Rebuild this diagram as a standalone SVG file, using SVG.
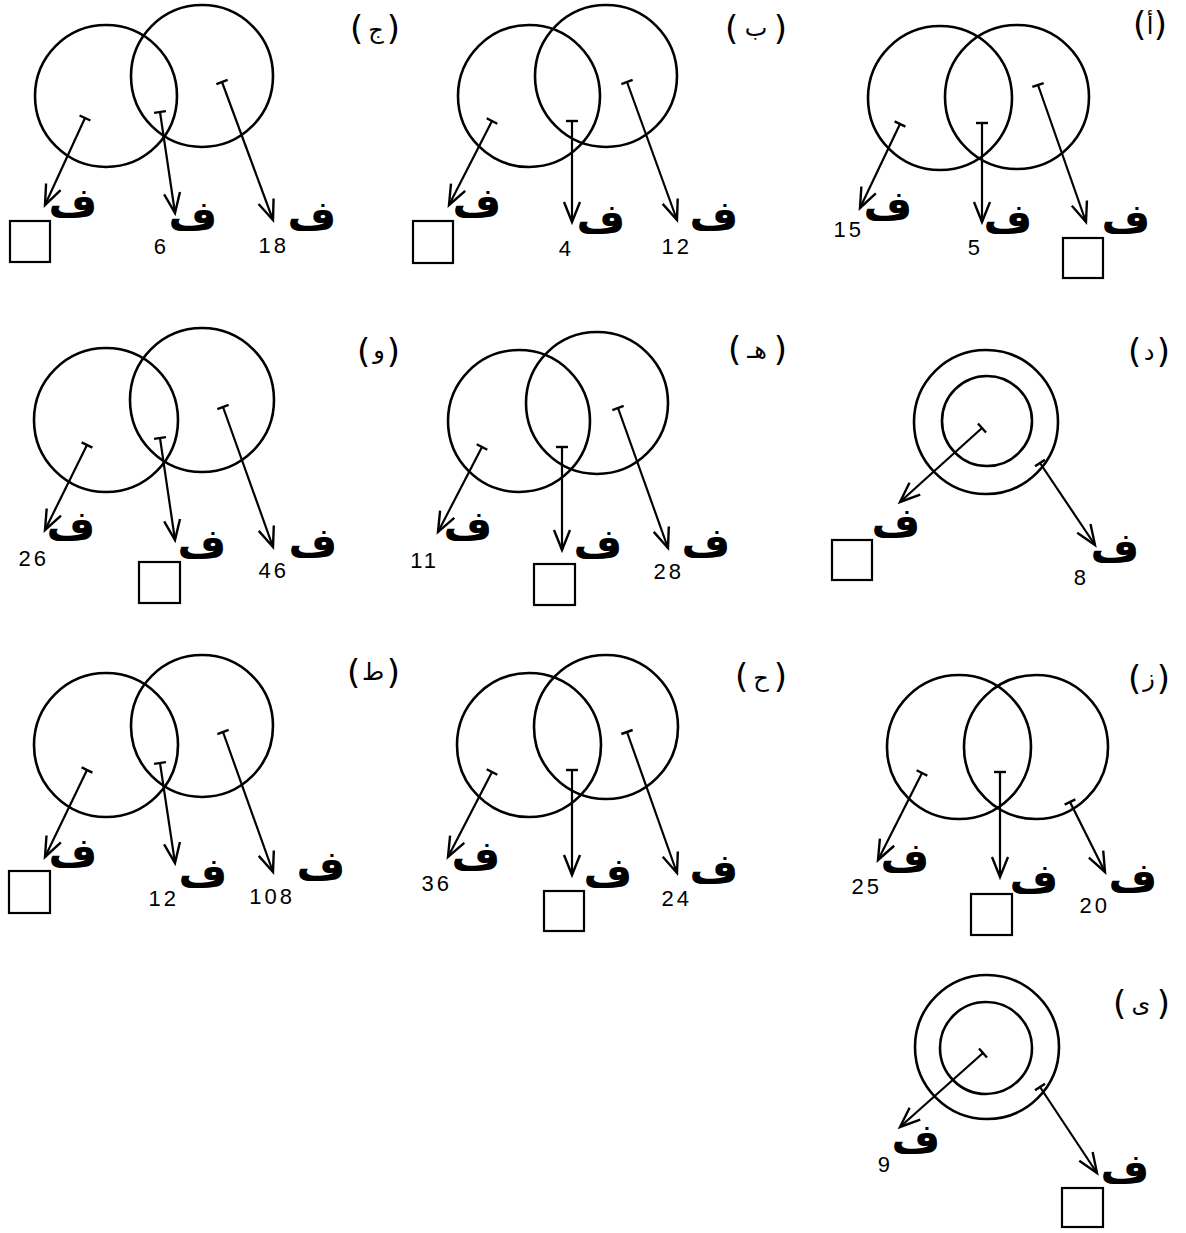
<svg xmlns="http://www.w3.org/2000/svg" width="1186" height="1233" viewBox="0 0 1186 1233">
<defs>
<marker id="ah" markerUnits="userSpaceOnUse" markerWidth="24" markerHeight="20" refX="20" refY="8" orient="auto" overflow="visible">
<path d="M0,0 L20,8 L0,16" fill="none" stroke="#000" stroke-width="2.4"/>
</marker>
<marker id="tk" markerUnits="userSpaceOnUse" markerWidth="4" markerHeight="14" refX="0" refY="6" orient="auto" overflow="visible">
<path d="M0,0 L0,12" fill="none" stroke="#000" stroke-width="2.4"/>
</marker>
</defs>
<style>
.c{fill:none;stroke:#000;stroke-width:2.6}
.a{fill:none;stroke:#000;stroke-width:2.2;marker-end:url(#ah);marker-start:url(#tk)}
.sq{fill:#fff;stroke:#000;stroke-width:2.2}
.f{font-family:"DejaVu Sans",sans-serif;font-weight:bold;font-size:42px;text-anchor:middle;fill:#000}
.n{font-family:"Liberation Sans",Arial,sans-serif;font-size:22px;text-anchor:end;letter-spacing:3px;fill:#000}
.l{font-family:"DejaVu Sans",sans-serif;font-size:24px;text-anchor:middle;fill:#000}
.po{font-family:"DejaVu Sans",sans-serif;font-size:34px;text-anchor:start;fill:#000}
.pc{font-family:"DejaVu Sans",sans-serif;font-size:34px;text-anchor:end;fill:#000}
</style>
<rect width="1186" height="1233" fill="#fff"/>

<g id="panel-a">
<circle class="c" cx="940" cy="98" r="72"/><circle class="c" cx="1017" cy="97" r="72"/>
<text class="po" x="1133" y="36">(</text><text class="l" x="1150" y="34">أ</text><text class="pc" x="1167" y="36">)</text>
<text class="f" x="888" y="220">ف</text><text class="n" x="864" y="237">15</text>
<text class="f" x="1008" y="233">ف</text><text class="n" x="983" y="255">5</text>
<text class="f" x="1126" y="233">ف</text><rect class="sq" x="1063" y="238" width="40" height="40"/>
</g>

<g id="panel-b">
<circle class="c" cx="529" cy="96" r="71"/><circle class="c" cx="606" cy="76" r="71"/>
<text class="po" x="725" y="40">(</text><text class="l" x="756" y="36">ب</text><text class="pc" x="787" y="40">)</text>
<text class="f" x="477" y="217">ف</text><rect class="sq" x="413" y="221" width="40" height="42"/>
<text class="f" x="601" y="233">ف</text><text class="n" x="574" y="256">4</text>
<text class="f" x="714" y="230">ف</text><text class="n" x="692" y="254">12</text>
</g>

<g id="panel-c">
<circle class="c" cx="106" cy="96" r="71"/><circle class="c" cx="202" cy="76" r="71"/>
<text class="po" x="350" y="40">(</text><text class="l" x="376" y="38">ج</text><text class="pc" x="400" y="40">)</text>
<text class="f" x="73" y="217">ف</text><rect class="sq" x="10" y="221" width="40" height="41"/>
<text class="f" x="193" y="230">ف</text><text class="n" x="169" y="254">6</text>
<text class="f" x="312" y="230">ف</text><text class="n" x="289" y="253">18</text>
</g>

<g id="panel-d">
<circle class="c" cx="986" cy="422" r="72"/><circle class="c" cx="987" cy="421" r="45"/>
<text class="po" x="1128" y="363">(</text><text class="l" x="1149" y="360">د</text><text class="pc" x="1170" y="363">)</text>
<text class="f" x="896" y="537">ف</text><rect class="sq" x="832" y="540" width="40" height="40"/>
<text class="f" x="1115" y="562">ف</text><text class="n" x="1089" y="585">8</text>
</g>

<g id="panel-e">
<circle class="c" cx="519" cy="421" r="71"/><circle class="c" cx="597" cy="403" r="71"/>
<text class="po" x="728" y="361">(</text><text class="l" x="757" y="358">هـ</text><text class="pc" x="787" y="361">)</text>
<text class="f" x="468" y="540">ف</text><text class="n" x="439" y="568">11</text>
<text class="f" x="598" y="558">ف</text><rect class="sq" x="534" y="564" width="41" height="41"/>
<text class="f" x="706" y="557">ف</text><text class="n" x="684" y="579">28</text>
</g>

<g id="panel-f">
<circle class="c" cx="106" cy="420" r="72"/><circle class="c" cx="202" cy="400" r="72"/>
<text class="po" x="357" y="363">(</text><text class="l" x="379" y="358">و</text><text class="pc" x="400" y="363">)</text>
<text class="f" x="71" y="540">ف</text><text class="n" x="49" y="566">26</text>
<text class="f" x="202" y="558">ف</text><rect class="sq" x="139" y="562" width="41" height="41"/>
<text class="f" x="313" y="557">ف</text><text class="n" x="289" y="578">46</text>
</g>

<g id="panel-g">
<circle class="c" cx="959" cy="747" r="72"/><circle class="c" cx="1036" cy="747" r="72"/>
<text class="po" x="1128" y="690">(</text><text class="l" x="1149" y="686">ز</text><text class="pc" x="1170" y="690">)</text>
<text class="f" x="905" y="872">ف</text><text class="n" x="882" y="894">25</text>
<text class="f" x="1034" y="893">ف</text><rect class="sq" x="971" y="894" width="41" height="41"/>
<text class="f" x="1133" y="892">ف</text><text class="n" x="1110" y="913">20</text>
</g>

<g id="panel-h">
<circle class="c" cx="529" cy="745" r="72"/><circle class="c" cx="606" cy="727" r="72"/>
<text class="po" x="735" y="688">(</text><text class="l" x="761" y="686">ح</text><text class="pc" x="787" y="688">)</text>
<text class="f" x="476" y="870">ف</text><text class="n" x="452" y="891">36</text>
<text class="f" x="608" y="887">ف</text><rect class="sq" x="544" y="891" width="40" height="40"/>
<text class="f" x="714" y="883">ف</text><text class="n" x="692" y="906">24</text>
</g>

<g id="panel-i">
<circle class="c" cx="106" cy="745" r="72"/><circle class="c" cx="202" cy="726" r="71"/>
<text class="po" x="347" y="684">(</text><text class="l" x="373" y="680">ط</text><text class="pc" x="400" y="684">)</text>
<text class="f" x="73" y="867">ف</text><rect class="sq" x="9" y="871" width="41" height="42"/>
<text class="f" x="203" y="887">ف</text><text class="n" x="179" y="906">12</text>
<text class="f" x="321" y="880">ف</text><text class="n" x="295" y="904">108</text>
</g>

<g id="panel-j">
<circle class="c" cx="987" cy="1047" r="72"/><circle class="c" cx="986" cy="1048" r="46"/>
<text class="po" x="1113" y="1015">(</text><text class="l" x="1141" y="1012">ى</text><text class="pc" x="1170" y="1015">)</text>
<text class="f" x="916" y="1153">ف</text><text class="n" x="893" y="1172">9</text>
<text class="f" x="1125" y="1183">ف</text><rect class="sq" x="1062" y="1188" width="41" height="39"/>
</g>

<g id="connectors">
<line class="a" x1="900" y1="124" x2="860" y2="208"/>
<line class="a" x1="982" y1="123" x2="982" y2="222"/>
<line class="a" x1="1038" y1="85" x2="1086" y2="222"/>
<line class="a" x1="492" y1="121" x2="449" y2="205"/>
<line class="a" x1="572" y1="121" x2="572" y2="222"/>
<line class="a" x1="627" y1="82" x2="677" y2="220"/>
<line class="a" x1="85" y1="118" x2="45" y2="205"/>
<line class="a" x1="160" y1="112" x2="175" y2="213"/>
<line class="a" x1="222" y1="82" x2="273" y2="220"/>
<line class="a" x1="982" y1="428" x2="900" y2="502"/>
<line class="a" x1="1040" y1="463" x2="1095" y2="545"/>
<line class="a" x1="482" y1="447" x2="438" y2="532"/>
<line class="a" x1="562" y1="447" x2="562" y2="550"/>
<line class="a" x1="618" y1="408" x2="668" y2="548"/>
<line class="a" x1="87" y1="445" x2="45" y2="530"/>
<line class="a" x1="160" y1="438" x2="175" y2="540"/>
<line class="a" x1="223" y1="407" x2="273" y2="547"/>
<line class="a" x1="922" y1="773" x2="878" y2="860"/>
<line class="a" x1="1000" y1="772" x2="1000" y2="877"/>
<line class="a" x1="1070" y1="802" x2="1105" y2="872"/>
<line class="a" x1="492" y1="772" x2="448" y2="857"/>
<line class="a" x1="572" y1="770" x2="572" y2="875"/>
<line class="a" x1="627" y1="732" x2="677" y2="873"/>
<line class="a" x1="87" y1="770" x2="45" y2="857"/>
<line class="a" x1="160" y1="763" x2="175" y2="863"/>
<line class="a" x1="223" y1="732" x2="273" y2="872"/>
<line class="a" x1="983" y1="1053" x2="900" y2="1127"/>
<line class="a" x1="1040" y1="1087" x2="1097" y2="1173"/>
</g>
</svg>
